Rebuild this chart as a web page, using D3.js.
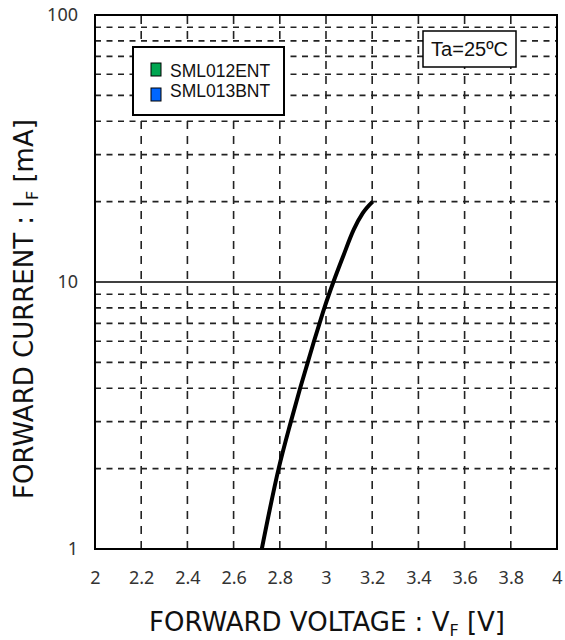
<!DOCTYPE html>
<html>
<head>
<meta charset="utf-8">
<script src="https://cdn.jsdelivr.net/npm/d3@7"></script>
<style>
	body { margin: 0; background: #fff; }
	svg { display: block; }
</style>
</head>
<body>
<script>
// values
const xTicks = [2, 2.2, 2.4, 2.6, 2.8, 3, 3.2, 3.4, 3.6, 3.8, 4];
const yTicks = [1, 10, 100];
const yMinor = [2, 3, 4, 5, 6, 7, 8, 9, 20, 30, 40, 50, 60, 70, 80, 90];
const vf = [2.722, 2.795, 2.848, 2.888, 2.921, 2.948, 2.972, 2.993, 3.013, 3.032, 3.073, 3.120, 3.159, 3.202];
const iF = [1, 2, 3, 4, 5, 6, 7, 8, 9, 10, 12.4, 15.7, 18.1, 20];
const legendNames = ["SML012ENT", "SML013BNT"];
const legendColors = ["#00a651", "#0066ff"];
const condition = "Ta=25ºC";

let width = 565, height = 640;
let plotLeft = 95, plotRight = 557, plotTop = 15, plotBottom = 549;

let svg = d3.select("body").append("svg").attr("width", width).attr("height", height);

let x = d3.scaleLinear().domain([2, 4]).range([plotLeft, plotRight]);
let y = d3.scaleLog().domain([1, 100]).range([plotBottom, plotTop]);

let grid = svg.append("g");

// vertical dashed lines
grid.selectAll("line.v").data(xTicks.slice(1, -1)).enter().append("line")
	.attr("class", "v")
	.attr("x1", d => x(d)).attr("x2", d => x(d))
	.attr("y1", plotBottom).attr("y2", plotTop)
	.attr("stroke", "#222").attr("stroke-width", 1.6).attr("stroke-dasharray", "8,7");

// horizontal dashed lines
grid.selectAll("line.h").data(yMinor).enter().append("line")
	.attr("class", "h")
	.attr("x1", plotLeft).attr("x2", plotRight)
	.attr("y1", d => y(d)).attr("y2", d => y(d))
	.attr("stroke", "#222").attr("stroke-width", 1.6).attr("stroke-dasharray", "6,5.5");

// solid line at 10
svg.append("line")
	.attr("x1", plotLeft).attr("x2", plotRight)
	.attr("y1", y(10)).attr("y2", y(10))
	.attr("stroke", "#000").attr("stroke-width", 1.6);

// frame
svg.append("rect")
	.attr("x", plotLeft).attr("y", plotTop)
	.attr("width", plotRight - plotLeft).attr("height", plotBottom - plotTop)
	.attr("fill", "none").attr("stroke", "#000").attr("stroke-width", 2);

// axes (labels only)
let xAxis = svg.append("g").attr("transform", `translate(0,${plotBottom})`)
	.call(d3.axisBottom(x).tickValues(xTicks).tickSize(0).tickPadding(22).tickFormat(d3.format("")));
let yAxis = svg.append("g").attr("transform", `translate(${plotLeft},0)`)
	.call(d3.axisLeft(y).tickValues(yTicks).tickSize(0).tickPadding(17).tickFormat(d3.format("")));
[xAxis, yAxis].forEach(a => {
	a.select(".domain").remove();
	a.selectAll("text").attr("font-family", "Noto Sans").attr("font-size", 18).attr("fill", "#333");
});

// the curve
let line = d3.line().x(d => x(d[0])).y(d => y(d[1])).curve(d3.curveMonotoneX);
svg.append("path").datum(vf.map((v, i) => [v, iF[i]]))
	.attr("d", line)
	.attr("fill", "none").attr("stroke", "#000").attr("stroke-width", 4)
	.attr("stroke-linejoin", "round");

// legend
let legend = svg.append("g");
legend.append("rect").attr("x", 133).attr("y", 47).attr("width", 151).attr("height", 68)
	.attr("fill", "#fff").attr("stroke", "#000").attr("stroke-width", 2);
legendNames.forEach((n, i) => {
	legend.append("rect").attr("x", 151).attr("y", 63 + i * 25).attr("width", 10).attr("height", 13)
		.attr("fill", legendColors[i]).attr("stroke", "#000").attr("stroke-width", 1);
	legend.append("text").attr("x", 170).attr("y", 77 + i * 20)
		.attr("font-family", "Liberation Sans, Arial").attr("font-size", 17.5).attr("fill", "#111")
		.text(n);
});

// condition box
svg.append("rect").attr("x", 423).attr("y", 31).attr("width", 93).attr("height", 36)
	.attr("fill", "#fff").attr("stroke", "#000").attr("stroke-width", 1.5);
svg.append("text").attr("x", 469.5).attr("y", 56).attr("text-anchor", "middle")
	.attr("font-family", "Liberation Sans, Arial").attr("font-size", 20).attr("fill", "#111")
	.text(condition);

// axis titles
let xt = svg.append("text").attr("x", 327).attr("y", 631).attr("text-anchor", "middle")
	.attr("font-family", "DejaVu Sans").attr("font-size", 26).attr("fill", "#111");
xt.append("tspan").text("FORWARD VOLTAGE : V");
xt.append("tspan").attr("font-size", 16).attr("dy", 5).text("F");
xt.append("tspan").attr("dy", -5).text(" [V]");

let yt = svg.append("text").attr("transform", "translate(33,309) rotate(-90)").attr("text-anchor", "middle")
	.attr("font-family", "DejaVu Sans").attr("font-size", 26).attr("fill", "#111");
yt.append("tspan").text("FORWARD CURRENT : I");
yt.append("tspan").attr("font-size", 16).attr("dy", 5).text("F");
yt.append("tspan").attr("dy", -5).text(" [mA]");
</script>
</body>
</html>
